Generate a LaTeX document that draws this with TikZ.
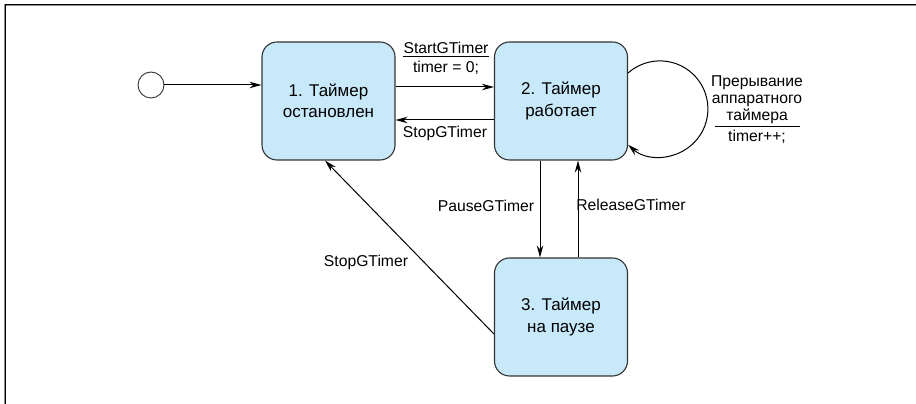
\documentclass[tikz,border=0pt]{standalone}
\usepackage{fontspec}
\setmainfont{Liberation Sans}
\usetikzlibrary{arrows.meta}
\definecolor{boxfill}{RGB}{199,233,249}
\definecolor{boxline}{RGB}{51,51,51}
\begin{document}
\begin{tikzpicture}[x=1pt,y=1pt,
  state/.style={rectangle, rounded corners=15pt, draw=boxline, line width=1.1pt, fill=boxfill,
    minimum width=133pt, minimum height=118pt, align=center, inner sep=0pt,
    font=\fontsize{17}{21.5}\selectfont},
  lbl/.style={font=\fontsize{15.7}{17}\selectfont, inner sep=0pt, align=center},
  arr/.style={line width=1pt, -{Stealth[length=12pt,width=6.5pt]}},
  ln/.style={line width=1pt}
]
\useasboundingbox (0,0) rectangle (916,404);
% frame
\draw[black!45, line width=2pt] (916,399) -- (5,399) -- (5,0);
\draw[black, line width=0.8pt] (916,399.5) -- (5.5,399.5) -- (5.5,0);

\node[circle, draw=boxline, line width=0.9pt, minimum size=26pt, inner sep=0pt] (init) at (151,319) {};
\node[state] (b1) at (328.5,303) {1. Таймер\\остановлен};
\node[state] (b2) at (561,303) {2. Таймер\\работает};
\node[state] (b3) at (561,87) {3. Таймер\\на паузе};

\draw[arr] (init.east) -- (b1.west |- init.east);
\draw[arr] ([yshift=14pt]b1.east) -- ([yshift=14pt]b2.west);
\draw[arr] ([yshift=-19pt]b2.west) -- ([yshift=-19pt]b1.east);
\draw[arr] ([xshift=-21pt]b2.south) -- ([xshift=-21pt]b3.north);
\draw[arr] ([xshift=17pt]b3.north) -- ([xshift=17pt]b2.south);
\draw[arr] ([yshift=-17pt]b3.west) -- ([xshift=-3.5pt]b1.south);
\draw[arr] ([yshift=28pt]b2.east) arc[start angle=131.6, end angle=-131.6, radius=48pt];

\node[lbl, anchor=base] (st1) at (446,350) {StartGTimer};
\node[lbl, anchor=base] (st2) at (446,331) {timer = 0;};
\draw[ln] ([yshift=-3pt]st1.base west) -- ([yshift=-3pt]st1.base east);
\node[lbl] (sp1) at (445,271) {StopGTimer};
\node[lbl] (pg) at (486,198) {PauseGTimer};
\node[lbl] (rg) at (631,199) {ReleaseGTimer};
\node[lbl] (sp2) at (366,142) {StopGTimer};
\node[lbl, anchor=base] (ir) at (757,283) {Прерывание\\аппаратного\\таймера};
\node[lbl, anchor=base] (tp) at (757,262) {timer++;};
\draw[ln] (715,277) -- (800,277);
\end{tikzpicture}
\end{document}
